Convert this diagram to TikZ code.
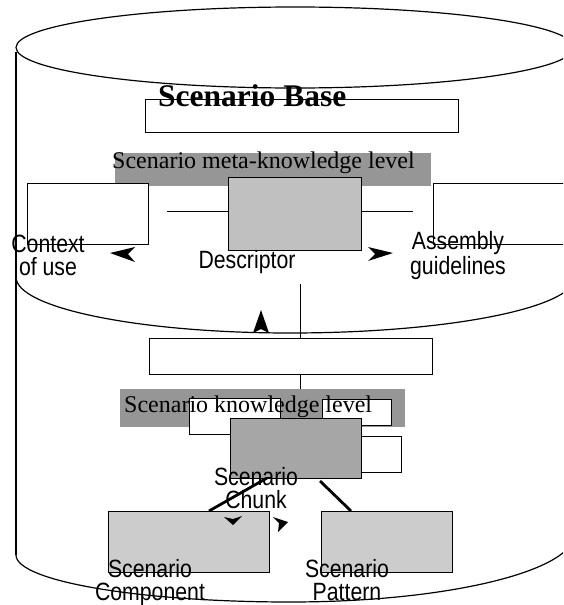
\documentclass[tikz,border=0pt]{standalone}
\usepackage{fontspec}
\setmainfont{Liberation Serif}
\newfontfamily\labelfont[FakeStretch=0.85]{Liberation Sans}
\usepackage{tikz}
\usetikzlibrary{arrows.meta,calc}
\definecolor{LevelGrey}{HTML}{969696}
\definecolor{DescGrey}{HTML}{C0C0C0}
\definecolor{ChunkGrey}{HTML}{A6A6A6}
\definecolor{PartGrey}{HTML}{CCCCCC}

\begin{document}
\begin{tikzpicture}[x=1pt,y=1pt,
  box/.style={draw,line width=1pt,fill=white,inner sep=0,outer sep=0,anchor=north west},
  level/.style={fill=LevelGrey,inner sep=0,outer sep=0,anchor=north west},
  levtext/.style={font=\fontsize{24}{28}\selectfont,inner sep=0,anchor=base west},
  lab/.style={font=\labelfont\fontsize{25}{23}\selectfont,align=center,inner sep=0,anchor=base},
  link/.style={line width=1pt},
  part/.style={line width=2.8pt},
  cyl/.style={line width=1.2pt}]
\useasboundingbox (0,0) rectangle (563,-605);
\clip (0,0) rectangle (563,-605);
% cylinder
\draw[cyl] (295,-47.5) ellipse [x radius=279,y radius=40.5];
\draw[cyl] (16,-52) -- (16,-555);
\draw[cyl] (16,-277) arc[start angle=180,end angle=270,x radius=274,y radius=56]
  arc[start angle=270,end angle=360,x radius=285,y radius=56];
\draw[cyl] (16,-555) arc[start angle=180,end angle=270,x radius=274,y radius=47]
  arc[start angle=270,end angle=360,x radius=285,y radius=69];
% meta-knowledge level
\node[box,minimum width=313,minimum height=33] (base) at (145,-99) {};
\node[font=\fontsize{31.5}{36}\selectfont\bfseries,inner sep=0,anchor=base west] (title) at (158,-106) {Scenario Base};
\node[level,minimum width=316,minimum height=33] (meta) at (115,-153) {};
\node[levtext] (metatext) at (112,-168) {Scenario meta-knowledge level};
\node[box,minimum width=121,minimum height=61] (ctx) at (27,-183) {};
\node[box,fill=DescGrey,minimum width=133,minimum height=73] (desc) at (228,-177) {};
\node[box,minimum width=132,minimum height=61] (asm) at (433,-183) {};
\coordinate (ctxend) at (167,-211);
\coordinate (asmend) at (413,-211);
\draw[link] (desc.west |- ctxend) -- (ctxend);
\draw[link] (desc.east |- asmend) -- (asmend);
\fill (110,-253) -- (135,-247) -- (128,-254) -- (135,-262) -- cycle;
\fill (393,-253) -- (368,-247) -- (375,-254) -- (368,-261) -- cycle;
\node[lab] (ctxlab) at (48,-275) {Context\\of use};
\node[lab] (desclab) at (247,-268) {Descriptor};
\node[lab] (asmlab) at (458,-274) {Assembly\\guidelines};
% knowledge level
\node[box,minimum width=283,minimum height=36] (inst) at (149,-338) {};
\coordinate (kbtop) at (300,-284);
\draw[link] (kbtop) -- (kbtop |- inst.north);
\fill (261,-310) -- (269,-333) -- (261,-329) -- (253,-333) -- cycle;
\node[level,minimum width=285,minimum height=38] (know) at (120,-389) {};
\draw[link] (inst.south -| kbtop) -- (kbtop |- know.north);
\node[box,minimum width=91,minimum height=36] (cA) at (189,-398) {};
\node[box,minimum width=69,minimum height=26] (cB) at (322,-399) {};
\node[box,minimum width=56,minimum height=36] (cC) at (345,-436) {};
\node[box,fill=ChunkGrey,minimum width=131,minimum height=60] (chunk) at (230,-418) {};
\node[levtext] (knowtext) at (124,-412) {Scenario knowledge level};
\node[box,fill=PartGrey,minimum width=161,minimum height=61] (comp) at (108,-511) {};
\node[box,fill=PartGrey,minimum width=131,minimum height=61] (patt) at (321,-511) {};
\draw[part] ([xshift=-28.5]chunk.south) -- ([xshift=20.5]comp.north);
\draw[part] ([xshift=24.5,yshift=-3]chunk.south) -- ([xshift=-35.5]patt.north);
\fill (233,-525) -- (224,-517) -- (233,-519) -- (242,-516) -- cycle;
\fill (288,-522) -- (273,-517) -- (279,-523) -- (278,-532) -- cycle;
\node[lab] (chunklab) at (256,-508) {Scenario\\Chunk};
\node[lab] (complab) at (150,-600) {Scenario\\Component};
\node[lab] (pattlab) at (347,-600) {Scenario\\Pattern};
\end{tikzpicture}
\end{document}
